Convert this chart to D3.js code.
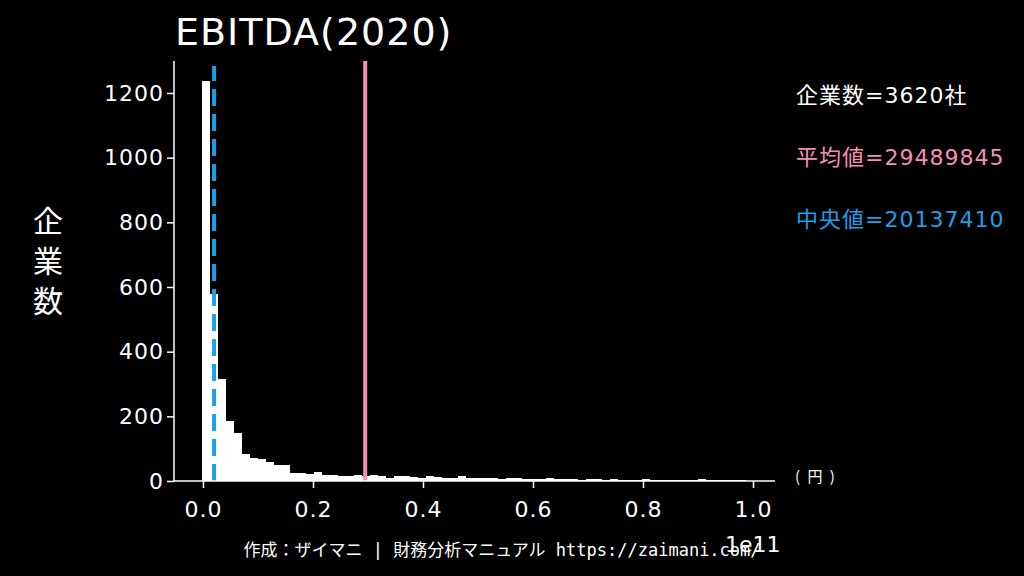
<!DOCTYPE html>
<html>
<head>
<meta charset="utf-8">
<script src="https://cdn.jsdelivr.net/npm/d3@7"></script>
<style>
  body{ margin:0; background:black; }
  text{ font-family:'Noto Sans CJK JP','Noto Sans',sans-serif; }
</style>
</head>
<body>
<svg id="chart" width="1024" height="576"></svg>
<script>

// histogram counts, bins of equal width starting at binStart
var binStart = -0.25e9;
var binWidth = 1.455e9;
var counts = [1238,578,316,185,147,83,70,68,60,50,48,26,26,22,28,18,18,17,15,18,15,18,16,10,14,16,12,
  10,14,12,8,10,14,9,10,8,9,6,8,10,7,6,5,8,5,6,5,4,5,6,4,5,4,3,4,5,4,3,4,3,4,3,5,3,4,3,3,2];
var xTicks = [0, 0.2e11, 0.4e11, 0.6e11, 0.8e11, 1.0e11];
var yTicks = [0, 200, 400, 600, 800, 1000, 1200];
var meanVal = 29489845000;
var medianVal = 2013741000;
var statLabels = ['企業数=3620社', '平均値=29489845', '中央値=20137410'];
var statColors = ['white', '#f78fb3', '#1e9ee8'];

var svg = d3.select('#chart');
svg.append('rect').attr('width',1024).attr('height',576).attr('fill','black');

var x = d3.scaleLinear().domain([0, 1e11]).range([203, 753]);
var y = d3.scaleLinear().domain([0, 1200]).range([481, 93]);

// bars
svg.selectAll('.bar').data(counts).enter().append('rect')
  .attr('x', function(d,i){ return x(binStart + i*binWidth); })
  .attr('width', x(binWidth) - x(0) + 0.6)
  .attr('y', function(d){ return y(d); })
  .attr('height', function(d){ return y(0) - y(d); })
  .attr('fill', 'white')
  .attr('shape-rendering', 'crispEdges');

// median + mean lines
svg.append('line')
  .attr('x1', x(medianVal)).attr('x2', x(medianVal))
  .attr('y1', y(0)).attr('y2', 66)
  .attr('stroke', statColors[2]).attr('stroke-width', 4)
  .attr('stroke-dasharray', '17,8');
svg.append('line')
  .attr('x1', x(meanVal)).attr('x2', x(meanVal))
  .attr('y1', y(0)).attr('y2', 61)
  .attr('stroke', statColors[1]).attr('stroke-width', 4);

// axes
var xAxis = svg.append('g').attr('transform','translate(0,481)')
  .call(d3.axisBottom(x).tickValues(xTicks).tickFormat(function(d){ return (d/1e11).toFixed(1); }).tickSizeOuter(0).tickSize(7));
xAxis.select('.domain').attr('d', 'M174,0H775');
var yAxis = svg.append('g').attr('transform','translate(174,0)')
  .call(d3.axisLeft(y).tickValues(yTicks).tickFormat(d3.format('d')).tickSizeOuter(0).tickSize(7));
yAxis.select('.domain').attr('d', 'M0,61V481');
svg.selectAll('.domain').attr('stroke','white').attr('stroke-width',1.5);
svg.selectAll('.tick line').attr('stroke','white').attr('stroke-width',1.5);
svg.selectAll('.tick text').attr('fill','white').style('font-size','22px')
  .style('letter-spacing','1px').style('font-family','"DejaVu Sans",sans-serif');
xAxis.selectAll('.tick text').attr('dy','1.2em');

// texts
svg.append('text').attr('x',175).attr('y',45).attr('fill','white')
  .style('font-size','38px').style('letter-spacing','1px').style('font-family','"DejaVu Sans",sans-serif').text('EBITDA(2020)');
['企','業','数'].forEach(function(c,i){
  svg.append('text').attr('x',48).attr('y',232+i*40).attr('text-anchor','middle')
    .attr('fill','white').style('font-size','30px').text(c);
});
svg.append('text').attr('x',795).attr('y',482).attr('fill','white').style('font-size','15px')
  .style('letter-spacing','2px').text('( 円 )');
svg.append('text').attr('x',725).attr('y',552).attr('fill','white')
  .style('font-size','22px').style('font-family','"DejaVu Sans",sans-serif').text('1e11');
statLabels.forEach(function(t,i){
  svg.append('text').attr('x',796).attr('y',103+i*62).attr('fill',statColors[i])
    .style('font-size','22px').style('letter-spacing','1px')
    .style('font-family','"DejaVu Sans","Noto Sans CJK JP",sans-serif').text(t);
});
svg.append('text').attr('x',502).attr('y',556).attr('text-anchor','middle').attr('fill','white')
  .style('font-size','17px').style('font-family','"DejaVu Sans Mono","Noto Sans CJK JP",monospace').text('作成：ザイマニ | 財務分析マニュアル https://zaimani.com/');

</script>
</body>
</html>
